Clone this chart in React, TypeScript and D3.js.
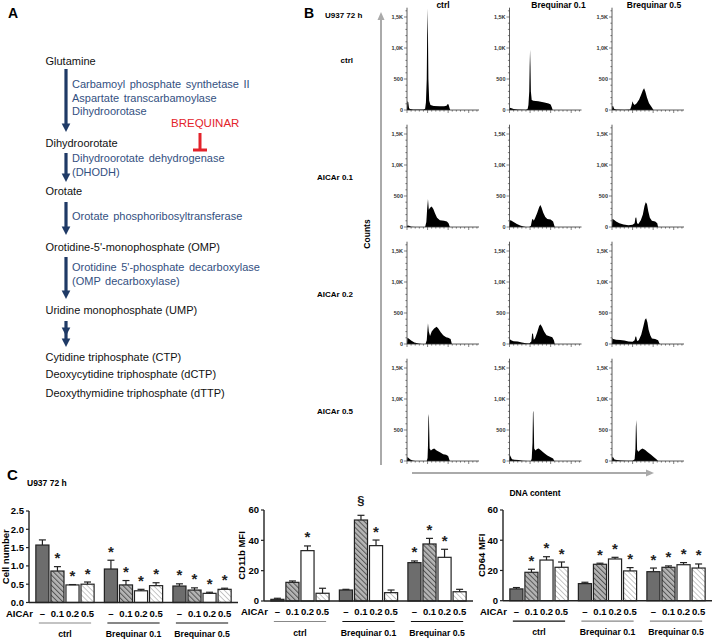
import React from 'react';
import * as d3 from 'd3';

const FONT = 'Liberation Sans, Arial, Helvetica, sans-serif';

// ---- panel A: pyrimidine pathway ----
const metabolites = [
  'Glutamine',
  'Dihydroorotate',
  'Orotate',
  "Orotidine-5'-monophosphate (OMP)",
  'Uridine monophosphate (UMP)',
  'Cytidine triphosphate (CTP)',
  'Deoxycytidine triphosphate (dCTP)',
  'Deoxythymidine triphosphate (dTTP)',
];
const enzymes = [
  ['Carbamoyl phosphate synthetase II', 'Aspartate transcarbamoylase', 'Dihydroorotase'],
  ['Dihydroorotate dehydrogenase', '(DHODH)'],
  ['Orotate phosphoribosyltransferase'],
  ["Orotidine 5'-phosphate decarboxylase", '(OMP decarboxylase)'],
];
const inhibitorName = 'BREQUINAR';

// layout of panel A (px)
const metaboliteY = [61, 143, 191, 247, 310, 357, 374, 393];
const enzymeY = [[84, 98, 111], [158, 172], [216], [267, 281]];
const arrowSpans = [[69, 132], [153, 182], [202, 235], [257, 299], [321, 347]];

// ---- panel B: cell cycle histograms ----
const histColumns = ['ctrl', 'Brequinar 0.1', 'Brequinar 0.5'];
const histRows = ['ctrl', 'AICAr 0.1', 'AICAr 0.2', 'AICAr 0.5'];
const countTicks = [0, 500, 1000, 1500];
const countTickLabels = ['0', '500', '1,0K', '1,5K'];

// [DNA channel, counts]
const histCtrlCtrl = [[0,0],[1,140],[3,130],[5,30],[8,15],[15,10],[30,8],[40,8],[44,20],[46,120],[48,500],[49,1200],[50,1640],[51,1200],[52,500],[54,150],[57,80],[65,65],[80,60],[90,60],[96,70],[99,95],[101,90],[103,40],[105,0]];
const histCtrlBq01 = [[0,0],[1,35],[5,30],[10,15],[20,8],[40,5],[44,15],[46,80],[48,300],[49,700],[50,970],[51,700],[52,300],[54,160],[58,150],[70,140],[85,120],[95,105],[100,90],[103,40],[105,0]];
const histCtrlBq05 = [[0,0],[1,65],[3,60],[5,20],[10,8],[30,5],[44,10],[47,60],[50,140],[52,100],[55,80],[60,110],[66,170],[71,250],[75,320],[78,350],[81,300],[85,200],[90,110],[95,60],[99,20],[101,0]];
const histA01Ctrl = [[0,0],[1,25],[5,20],[10,5],[20,0],[44,0],[47,80],[49,300],[51,450],[53,280],[56,310],[60,330],[64,290],[68,220],[73,150],[80,110],[90,100],[97,90],[101,60],[104,0]];
const histA01Bq01 = [[0,0],[1,110],[4,105],[10,80],[18,50],[26,25],[34,8],[40,0],[48,0],[52,20],[55,120],[57,130],[59,100],[62,140],[67,220],[72,320],[75,355],[78,310],[82,230],[87,160],[92,130],[100,120],[106,90],[110,0]];
const histA01Bq05 = [[0,0],[1,130],[4,120],[10,90],[18,60],[28,40],[40,30],[50,35],[55,60],[57,150],[59,155],[61,60],[64,50],[70,110],[75,200],[79,340],[82,400],[85,370],[88,260],[92,150],[97,100],[105,90],[110,60],[112,0]];
const histA02Ctrl = [[0,0],[1,100],[4,90],[10,55],[18,25],[28,8],[36,0],[45,0],[48,60],[50,250],[51,335],[53,200],[56,130],[60,200],[66,250],[72,280],[76,250],[82,190],[88,140],[95,110],[100,100],[106,80],[109,0]];
const histA02Bq01 = [[0,0],[1,75],[4,60],[10,45],[20,40],[30,25],[40,12],[48,10],[53,40],[55,165],[57,170],[59,70],[62,90],[67,180],[72,290],[75,320],[79,280],[84,200],[90,140],[97,125],[104,110],[108,60],[110,0]];
const histA02Bq05 = [[0,0],[1,95],[3,80],[10,70],[20,65],[30,55],[40,40],[50,35],[55,60],[57,120],[59,115],[61,50],[65,60],[71,150],[76,280],[80,390],[83,415],[86,350],[89,230],[93,140],[97,90],[105,80],[112,60],[116,0]];
const histA05Ctrl = [[0,0],[1,65],[4,50],[8,25],[14,8],[20,0],[48,0],[50,50],[51,250],[52,700],[53,760],[54,500],[55,200],[58,170],[62,190],[66,200],[72,170],[80,140],[88,110],[95,100],[100,80],[104,0]];
const histA05Bq01 = [[0,0],[1,95],[3,70],[6,30],[12,20],[22,15],[32,5],[45,0],[52,0],[54,40],[56,300],[57,780],[58,810],[59,550],[60,200],[63,170],[67,195],[71,200],[77,170],[84,130],[92,90],[100,60],[106,40],[109,0]];
const histA05Bq05 = [[0,0],[1,70],[3,55],[6,25],[12,15],[22,10],[35,5],[50,5],[55,30],[57,200],[58,550],[59,660],[60,450],[61,180],[64,150],[69,180],[74,200],[80,180],[87,140],[95,100],[102,60],[108,30],[112,0]];

const histograms = [
  [histCtrlCtrl, histCtrlBq01, histCtrlBq05],
  [histA01Ctrl, histA01Bq01, histA01Bq05],
  [histA02Ctrl, histA02Bq01, histA02Bq05],
  [histA05Ctrl, histA05Bq01, histA05Bq05],
];

// ---- panel C: bar charts ----
const treatments = ['ctrl', 'Brequinar 0.1', 'Brequinar 0.5'];
const aicarDoses = ['–', '0.1', '0.2', '0.5'];

const cellNumber = [[1.57, 0.86, 0.48, 0.50], [0.915, 0.48, 0.32, 0.46], [0.45, 0.34, 0.25, 0.36]];
const cellNumberErr = [[0.14, 0.12, 0.01, 0.06], [0.24, 0.12, 0.04, 0.08], [0.06, 0.06, 0.03, 0.03]];
const cellNumberMarks = [['', '*', '*', '*'], ['*', '*', '*', '*'], ['*', '*', '*', '*']];

const cd11b = [[1.1, 12.3, 33.2, 5.1], [7.25, 53.4, 36.5, 5.5], [25.3, 37.6, 28.8, 6.1]];
const cd11bErr = [[0.7, 0.9, 3.1, 3.3], [0.45, 3.1, 3.7, 1.75], [1.1, 3.7, 5.3, 1.6]];
const cd11bMarks = [['', '', '*', ''], ['', '§', '*', ''], ['*', '*', '*', '']];

const cd64 = [[7.8, 18.8, 26.9, 22.1], [11.3, 24.1, 27.6, 19.7], [19.2, 22.1, 23.8, 21.6]];
const cd64Err = [[0.9, 2.0, 2.2, 3.5], [0.9, 0.7, 1.1, 2.2], [2.4, 0.9, 1.4, 2.7]];
const cd64Marks = [['', '*', '*', '*'], ['', '*', '*', '*'], ['*', '*', '*', '*']];

const NAVY = '#1f3a66';
const BLUE = '#33507f';

function DownArrow({ x, y0, y1, double }: { x: number; y0: number; y1: number; double?: boolean }) {
  const head = (tip: number) => `M${x - 4.3},${tip - 8.5}L${x + 4.3},${tip - 8.5}L${x},${tip}Z`;
  const mid = y0 + (y1 - y0) * 0.58;
  return (
    <g fill={NAVY}>
      <line x1={x} x2={x} y1={y0} y2={y1 - 7} stroke={NAVY} strokeWidth={3.2} />
      <path d={head(y1)} />
      {double && <path d={head(mid)} />}
    </g>
  );
}

function PanelA() {
  return (
    <g fontFamily={FONT}>
      <text x={8} y={18} fontSize={14} fontWeight="bold">A</text>
      {metabolites.map((m, i) => (
        <text key={m} x={45.5} y={metaboliteY[i]} dy="0.35em" fontSize={11} fill="#111">{m}</text>
      ))}
      {enzymes.map((lines, i) =>
        lines.map((l, j) => (
          <text key={l} x={72} y={enzymeY[i][j]} dy="0.35em" fontSize={11} fill={BLUE} wordSpacing={1.5}>{l}</text>
        ))
      )}
      {arrowSpans.map(([a, b], i) => (
        <DownArrow key={i} x={66} y0={a} y1={b} double={i === arrowSpans.length - 1} />
      ))}
      <text x={171} y={123} dy="0.35em" fontSize={11.5} fill="#e3232b">{inhibitorName}</text>
      <line x1={200} x2={200} y1={133} y2={150} stroke="#e3232b" strokeWidth={3} />
      <line x1={193} x2={207} y1={150} y2={150} stroke="#e3232b" strokeWidth={3} />
    </g>
  );
}

function Histogram({ data, ax, base }: { data: number[][]; ax: number; base: number }) {
  const x = d3.scaleLinear().domain([0, 175]).range([ax, ax + 72]);
  const y = d3.scaleLinear().domain([0, 1650]).range([base, base - 102.3]);
  const area = d3.area<number[]>().x(d => x(d[0])).y0(base).y1(d => y(d[1]));
  const minorY = d3.range(0, 1650, 100);
  const minorX = d3.range(0, 176, 10);
  return (
    <g>
      <path d={area(data) || ''} fill="#000" />
      <line x1={ax} x2={ax} y1={base} y2={y(1650)} stroke="#333" strokeWidth={0.8} />
      <line x1={ax} x2={x(175)} y1={base} y2={base} stroke="#333" strokeWidth={0.8} />
      {minorY.map(v => (
        <line key={'my' + v} x1={ax - (v % 500 === 0 ? 3 : 1.6)} x2={ax} y1={y(v)} y2={y(v)} stroke="#333" strokeWidth={0.6} />
      ))}
      {minorX.map(v => (
        <line key={'mx' + v} x1={x(v)} x2={x(v)} y1={base} y2={base + (v % 50 === 0 ? 3 : 1.6)} stroke="#333" strokeWidth={0.6} />
      ))}
      {countTicks.map((t, i) => (
        <text key={t} x={ax - 4} y={y(t)} dy="0.35em" textAnchor="end" fontSize={5.5} fontWeight="bold" fill="#333">{countTickLabels[i]}</text>
      ))}
    </g>
  );
}

function PanelB() {
  const colX = d3.scalePoint<string>().domain(histColumns).range([407, 612]);
  const rowY = d3.scalePoint<string>().domain(histRows).range([110, 461]);
  const titleOffset = [36, 49, 42];
  return (
    <g fontFamily={FONT}>
      <text x={304} y={18} fontSize={14} fontWeight="bold">B</text>
      <text x={325} y={15} dy="0.35em" fontSize={8} fontWeight="bold">U937 72 h</text>
      {histColumns.map((c, i) => (
        <text key={c} x={(colX(c) as number) + titleOffset[i]} y={5} dy="0.35em" textAnchor="middle" fontSize={8.5} fontWeight="bold">{c}</text>
      ))}
      {histRows.map(r => (
        <text key={r} x={353} y={(rowY(r) as number) - 50} dy="0.35em" textAnchor="end" fontSize={8} fontWeight="bold">{r}</text>
      ))}
      {histRows.map((r, i) =>
        histColumns.map((c, j) => (
          <Histogram key={r + c} data={histograms[i][j]} ax={colX(c) as number} base={rowY(r) as number} />
        ))
      )}
      {/* Counts axis */}
      <line x1={381} x2={381} y1={465} y2={19} stroke="#aaa" strokeWidth={2} />
      <path d="M377.5,20L384.5,20L381,12Z" fill="#aaa" />
      <text transform="translate(367,234) rotate(-90)" textAnchor="middle" dy="0.35em" fontSize={8.5} fontWeight="bold">Counts</text>
      {/* DNA content axis */}
      <line x1={412} x2={647} y1={473} y2={473} stroke="#aaa" strokeWidth={2} />
      <path d="M646,469.5L646,476.5L654,473Z" fill="#aaa" />
      <text x={535} y={493} dy="0.35em" textAnchor="middle" fontSize={8.5} fontWeight="bold">DNA content</text>
    </g>
  );
}

const barFills = ['#6d6d6d', 'url(#hatchDark)', '#ffffff', 'url(#hatchLight)'];

type BarProps = {
  values: number[][];
  errors: number[][];
  marks: string[][];
  domain: [number, number];
  ticks: number[];
  fmt: (v: number) => string;
  label: string;
  x0: number;
  x1: number;
  yBottom: number;
  yTop: number;
  labelX: number;
  lineColors: string[];
};

function BarChart(p: BarProps) {
  const y = d3.scaleLinear().domain(p.domain).range([p.yBottom, p.yTop]);
  const gx = d3.scaleBand<string>().domain(treatments).range([p.x0, p.x1]).paddingInner(0.15).paddingOuter(0.1);
  const bx = d3.scaleBand<string>().domain(aicarDoses).range([0, gx.bandwidth()]).paddingInner(0.13);
  const bw = bx.bandwidth();
  return (
    <g fontFamily={FONT}>
      {treatments.map((t, gi) => {
        const g0 = gx(t) as number;
        return (
          <g key={t}>
            {aicarDoses.map((d, bi) => {
              const v = p.values[gi][bi];
              const e = p.errors[gi][bi];
              const left = g0 + (bx(d) as number);
              const cx = left + bw / 2;
              const top = y(v);
              const et = y(v + e);
              const m = p.marks[gi][bi];
              return (
                <g key={d}>
                  <rect x={left} y={top} width={bw} height={p.yBottom - top} fill={barFills[bi]} stroke="#222" strokeWidth={1.2} />
                  <line x1={cx} x2={cx} y1={top} y2={et} stroke="#222" strokeWidth={1.2} />
                  <line x1={cx - 3.5} x2={cx + 3.5} y1={et} y2={et} stroke="#222" strokeWidth={1.2} />
                  {m === '*' && (
                    <text x={cx} y={et - 3.5} textAnchor="middle" fontSize={15} fontWeight="bold" fill="#222">*</text>
                  )}
                  {m === '§' && (
                    <text x={cx} y={et - 10} textAnchor="middle" fontSize={13} fontWeight="bold" fill="#222">§</text>
                  )}
                  <text x={cx} y={p.yBottom + 11} dy="0.35em" textAnchor="middle" fontSize={9.5} fontWeight="bold">{d}</text>
                </g>
              );
            })}
            <line x1={g0 + 3} x2={g0 + gx.bandwidth() - 3} y1={p.yBottom + 20.5} y2={p.yBottom + 20.5} stroke={p.lineColors[gi]} strokeWidth={1.2} />
            <text x={g0 + gx.bandwidth() / 2} y={p.yBottom + 31.5} dy="0.35em" textAnchor="middle" fontSize={8.7} fontWeight="bold">{t}</text>
          </g>
        );
      })}
      <text x={(gx(treatments[0]) as number) - 3} y={p.yBottom + 11} dy="0.35em" textAnchor="end" fontSize={9.5} fontWeight="bold">AICAr</text>
      <line x1={p.x0} x2={p.x0} y1={p.yTop} y2={p.yBottom} stroke="#222" strokeWidth={1.4} />
      <line x1={p.x0} x2={p.x1} y1={p.yBottom} y2={p.yBottom} stroke="#222" strokeWidth={1.4} />
      {p.ticks.map(t => (
        <g key={t}>
          <line x1={p.x0 - 3} x2={p.x0} y1={y(t)} y2={y(t)} stroke="#222" strokeWidth={1.2} />
          <text x={p.x0 - 5} y={y(t)} dy="0.35em" textAnchor="end" fontSize={9.5} fontWeight="bold">{p.fmt(t)}</text>
        </g>
      ))}
      <text transform={`translate(${p.labelX},${(p.yTop + p.yBottom) / 2}) rotate(-90)`} dy="0.35em" textAnchor="middle" fontSize={9.5} fontWeight="bold">{p.label}</text>
    </g>
  );
}

function PanelC() {
  return (
    <g fontFamily={FONT}>
      <text x={7} y={480} fontSize={15} fontWeight="bold">C</text>
      <text x={27} y={483} dy="0.35em" fontSize={8.5} fontWeight="bold">U937 72 h</text>
      <BarChart values={cellNumber} errors={cellNumberErr} marks={cellNumberMarks} domain={[0, 2.5]}
        ticks={[0, 0.5, 1, 1.5, 2, 2.5]} fmt={d3.format('.1f')} label="Cell number"
        x0={29} x1={238} yBottom={602.5} yTop={511} labelX={6} lineColors={['#888', '#111', '#111']} />
      <BarChart values={cd11b} errors={cd11bErr} marks={cd11bMarks} domain={[0, 60]}
        ticks={[0, 20, 40, 60]} fmt={d3.format('d')} label="CD11b MFI"
        x0={264} x1={473} yBottom={601} yTop={510} labelX={242} lineColors={['#888', '#111', '#111']} />
      <BarChart values={cd64} errors={cd64Err} marks={cd64Marks} domain={[0, 60]}
        ticks={[0, 20, 40, 60]} fmt={d3.format('d')} label="CD64 MFI"
        x0={503} x1={712} yBottom={600.7} yTop={510} labelX={482} lineColors={['#111', '#888', '#888']} />
    </g>
  );
}

export default function App() {
  return (
    <svg width={713} height={640} style={{ position: 'absolute', left: 0, top: 0, background: '#fff' }}>
      <defs>
        <pattern id="hatchDark" width={3.6} height={3.6} patternUnits="userSpaceOnUse" patternTransform="rotate(-45)">
          <rect width={3.6} height={3.6} fill="#b4b4b4" />
          <line x1={0} x2={0} y1={0} y2={3.6} stroke="#555" strokeWidth={2} />
        </pattern>
        <pattern id="hatchLight" width={3.6} height={3.6} patternUnits="userSpaceOnUse" patternTransform="rotate(-45)">
          <rect width={3.6} height={3.6} fill="#fff" />
          <line x1={0} x2={0} y1={0} y2={3.6} stroke="#b0b0b0" strokeWidth={1.4} />
        </pattern>
      </defs>
      <PanelA />
      <PanelB />
      <PanelC />
    </svg>
  );
}
